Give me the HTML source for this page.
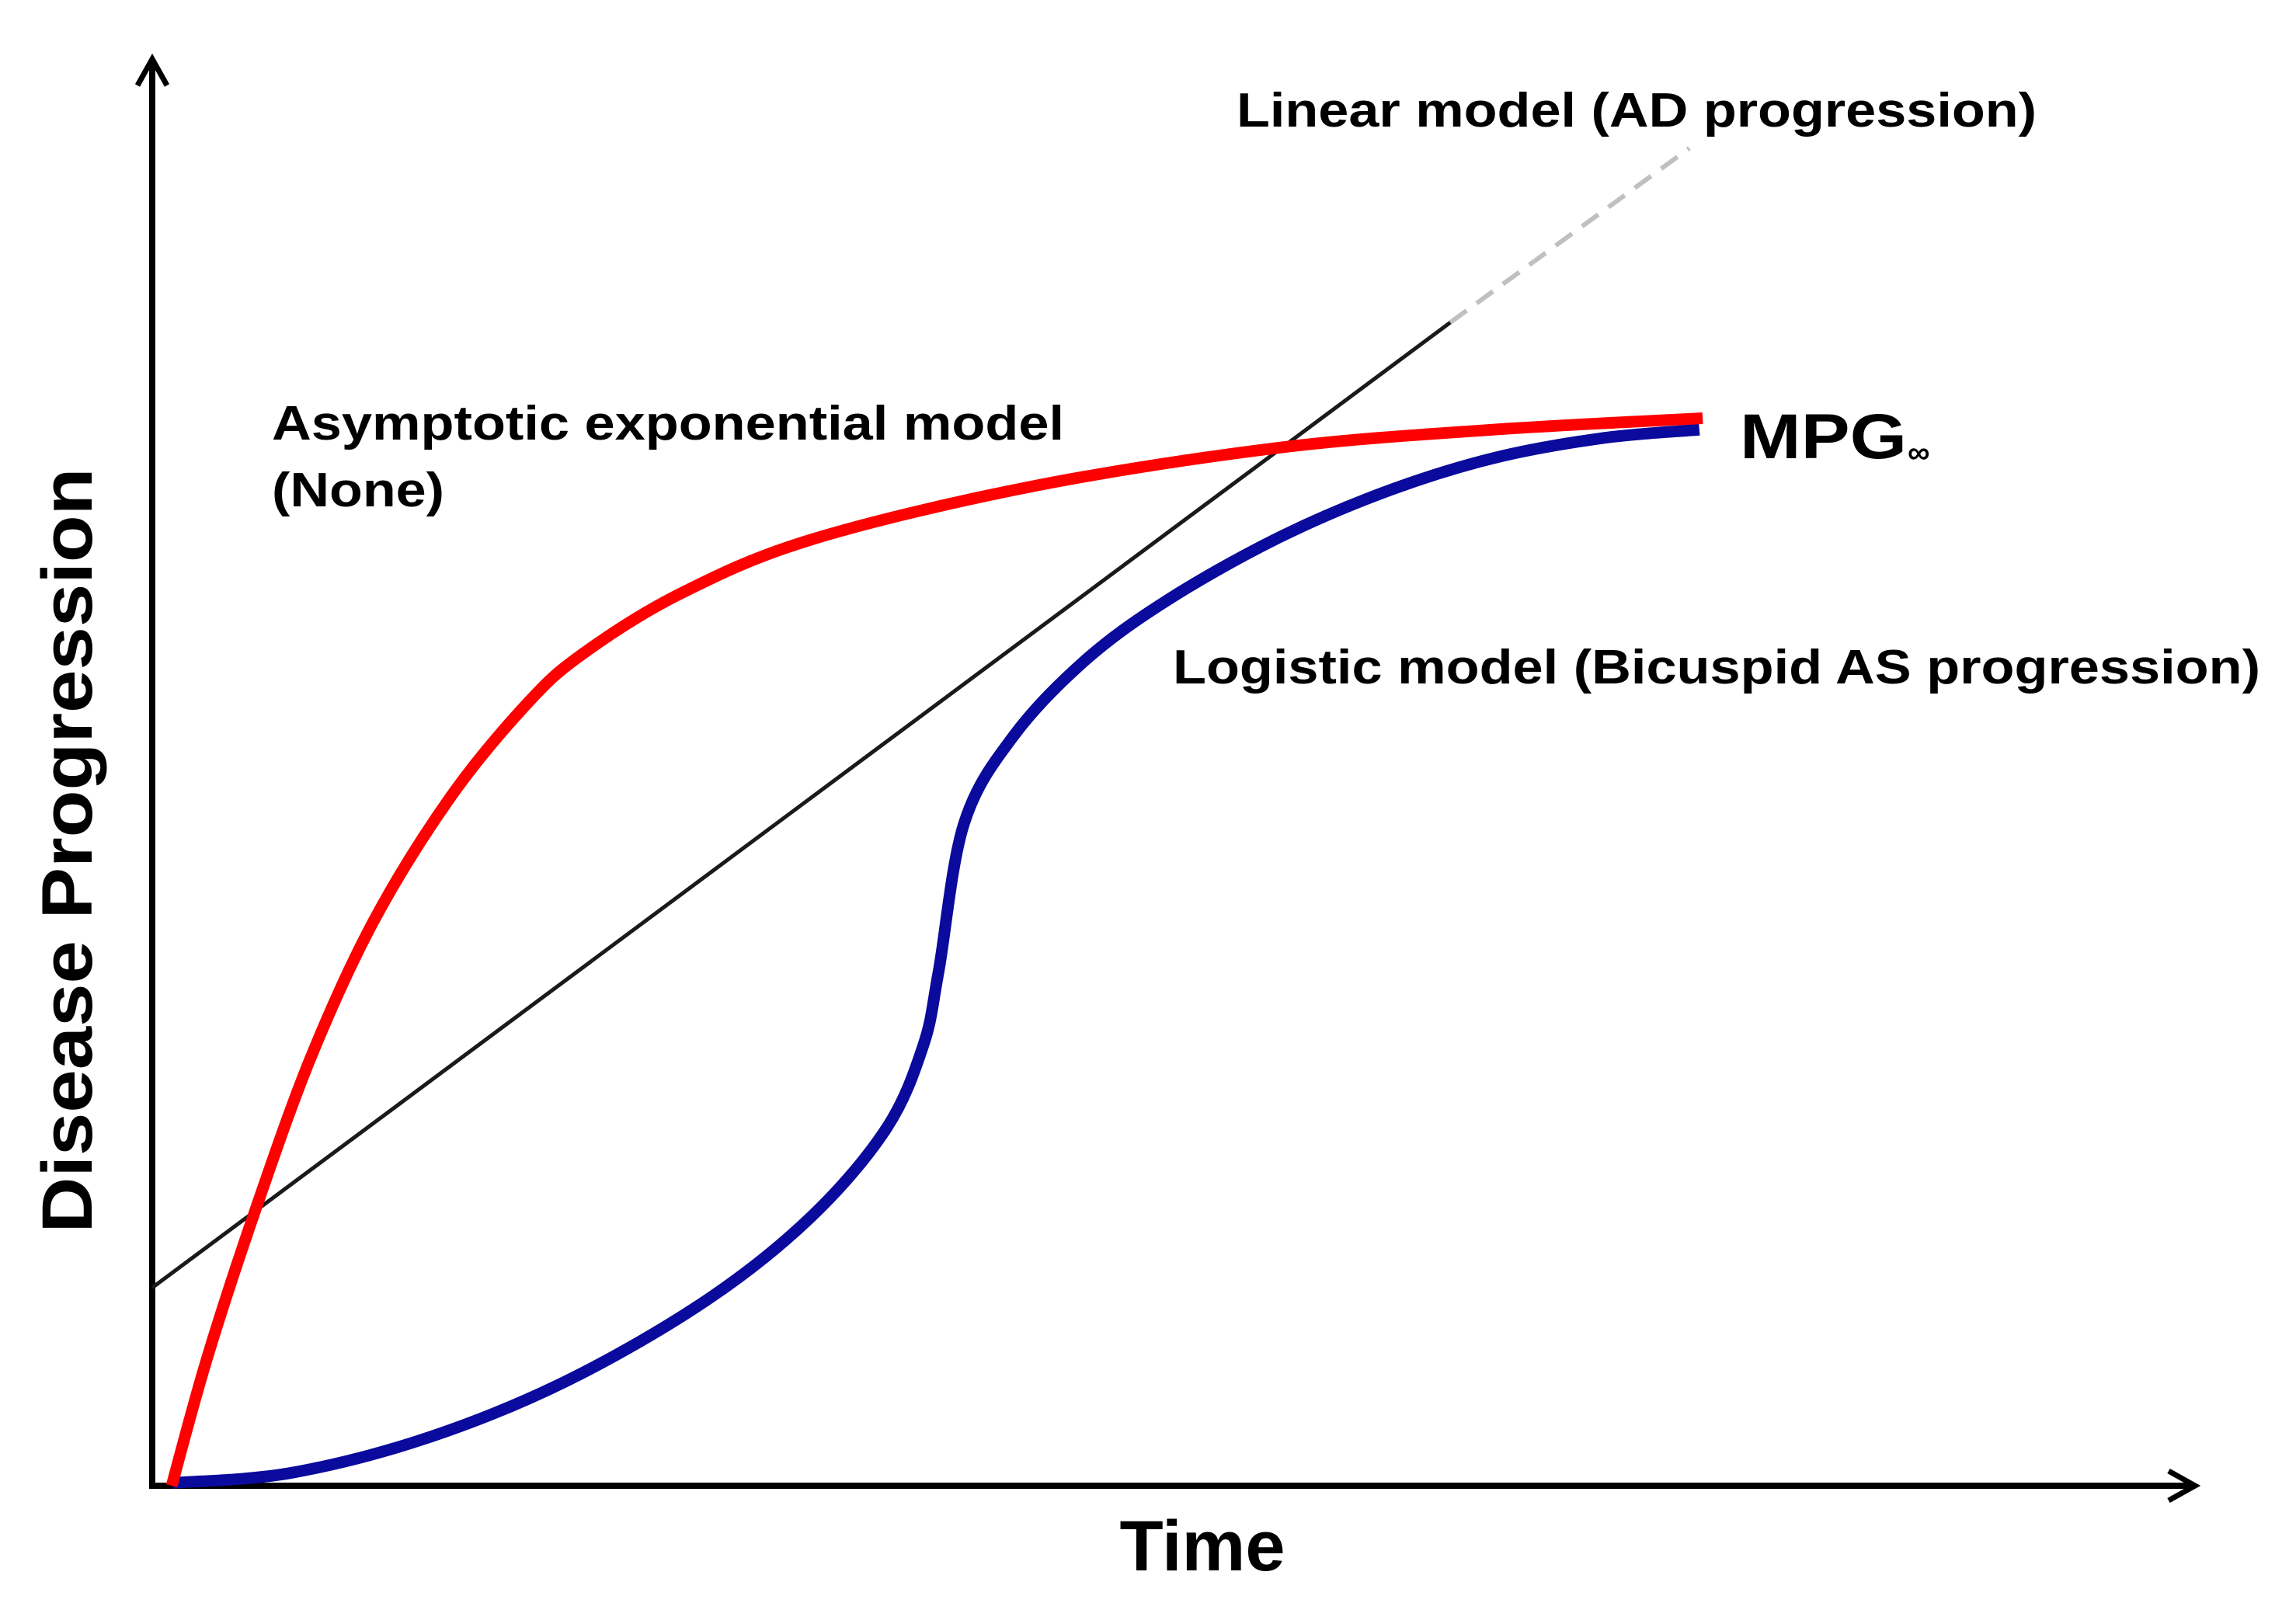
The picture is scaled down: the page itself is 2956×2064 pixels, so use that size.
<!DOCTYPE html>
<html><head><meta charset="utf-8"><style>
html,body{margin:0;padding:0;background:#fff;}
svg{display:block;}
text{font-family:"Liberation Sans",Arial,sans-serif;font-weight:bold;fill:#000;}
</style></head><body>
<svg id="chart" width="2956" height="2064" viewBox="0 0 2956 2064" xmlns="http://www.w3.org/2000/svg">
<g id="axes">
<line x1="196" y1="1917" x2="196" y2="80" stroke="#000" stroke-width="8"/>
<polyline points="177,110 196,76 215,110" fill="none" stroke="#000" stroke-width="7"/>
<line x1="192" y1="1913" x2="2822" y2="1913" stroke="#000" stroke-width="8"/>
<polyline points="2792,1894 2826,1913 2792,1932" fill="none" stroke="#000" stroke-width="7"/>
</g>
<g id="series"></g>
<text x="1592" y="163" font-size="62" textLength="1030" lengthAdjust="spacingAndGlyphs">Linear model (AD progression)</text>
<text x="350" y="566" font-size="62" textLength="1020" lengthAdjust="spacingAndGlyphs">Asymptotic exponential model</text>
<text x="350" y="652" font-size="62" textLength="222" lengthAdjust="spacingAndGlyphs">(None)</text>
<text x="1510" y="880" font-size="62" textLength="1400" lengthAdjust="spacingAndGlyphs">Logistic model (Bicuspid AS progression)</text>
<text x="2240" y="590" font-size="82" textLength="215" lengthAdjust="spacingAndGlyphs">MPG</text>
<text x="2456" y="596" font-size="40">∞</text>
<text x="1548" y="2022" font-size="92" text-anchor="middle">Time</text>
<text transform="translate(118,1095) rotate(-90)" font-size="92" text-anchor="middle" textLength="985" lengthAdjust="spacingAndGlyphs">Disease Progression</text>
</svg>
<script>
const redT=[0.095,0.269,0.508,0.777,1.083,1.455,1.826,2.098,2.572,3.212,4.28,5.473,6.538,7.561];
const redP=[0.0,0.90,1.95,3.01,3.96,4.82,5.47,5.82,6.24,6.62,6.99,7.26,7.39,7.47];
const blueT=[0.102,0.678,1.352,2.030,2.705,3.212,3.58,3.76,3.835,3.958,4.197,4.545,4.943,5.473,6.004,6.538,7.068,7.545];
const blueP=[0.02,0.09,0.34,0.74,1.30,1.88,2.50,3.08,3.60,4.63,5.24,5.77,6.19,6.62,6.95,7.19,7.33,7.39];
const linearT=[0,6.330];
const linearP=[1.386,8.14];
const extrapT=[6.330,7.496];
const extrapP=[8.14,9.36];

function xs(t){return 196+t*264;}
function ys(p){return 1913-p*184;}
function smoothPath(T,P){
  const pts=T.map((t,i)=>[xs(t),ys(P[i])]);
  let d='M'+pts[0][0]+','+pts[0][1];
  for(let i=0;i<pts.length-1;i++){
    const p0=pts[i-1]||pts[i],p1=pts[i],p2=pts[i+1],p3=pts[i+2]||pts[i+1];
    const c1=[p1[0]+(p2[0]-p0[0])/6,p1[1]+(p2[1]-p0[1])/6];
    const c2=[p2[0]-(p3[0]-p1[0])/6,p2[1]-(p3[1]-p1[1])/6];
    d+=' C'+c1[0]+','+c1[1]+' '+c2[0]+','+c2[1]+' '+p2[0]+','+p2[1];
  }
  return d;
}
const NS='http://www.w3.org/2000/svg';
const g=document.getElementById('series');
function mk(d,stroke,w,name,dash){
  const p=document.createElementNS(NS,'path');
  p.setAttribute('d',d);p.setAttribute('fill','none');p.setAttribute('stroke',stroke);
  p.setAttribute('stroke-width',w);
  p.setAttribute('stroke-linejoin','round');
  if(dash)p.setAttribute('stroke-dasharray',dash);
  
  
  g.appendChild(p);
}
mk('M'+xs(extrapT[0])+','+ys(extrapP[0])+' L'+xs(extrapT[1])+','+ys(extrapP[1]),'#c0c0c0',6,'linear-extrapolation-dashed','26,16');
mk('M'+xs(linearT[0])+','+ys(linearP[0])+' L'+xs(linearT[1])+','+ys(linearP[1]),'#1a1a1a',5,'linear-model-line');
mk(smoothPath(blueT,blueP),'#0a0a9c',15,'logistic-model-curve');
mk(smoothPath(redT,redP),'#ff0000',15,'exponential-model-curve');
</script>
</body></html>
